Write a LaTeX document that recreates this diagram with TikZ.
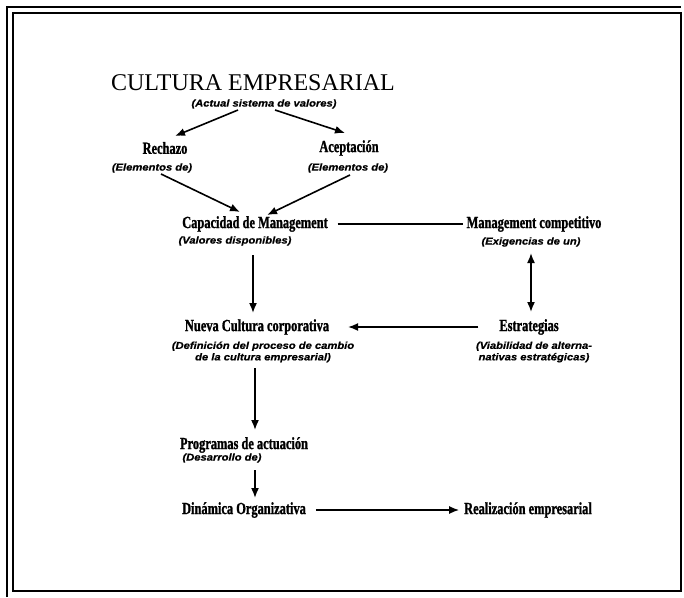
\documentclass[tikz,border=0pt]{standalone}
\usepackage{fontspec}
\setmainfont{Liberation Serif}
\newfontfamily\labfont{Liberation Serif}[FakeStretch=0.73,FakeBold=1.2]
\newfontfamily\subfont{Liberation Sans}[FakeStretch=1.12,FakeBold=0.6]
\usetikzlibrary{arrows.meta,calc}
\begin{document}
\begin{tikzpicture}[x=1pt,y=-1pt,
  every node/.style={inner sep=0pt,outer sep=0pt,anchor=center},
  titlelab/.style={font=\fontsize{24}{28}\selectfont},
  lab/.style={font=\labfont\bfseries\fontsize{17}{19}\selectfont},
  sublab/.style={font=\subfont\bfseries\itshape\fontsize{10}{11.5}\selectfont,align=center},
  conn/.style={line width=1.6pt},
  arr/.style={conn,-{Latex[length=10pt,width=8pt]}},
  dblarr/.style={conn,{Latex[length=10pt,width=8pt]}-{Latex[length=10pt,width=8pt]}}]
\useasboundingbox (0,0) rectangle (684,597);
\fill[white] (0,0) rectangle (684,597);

% frame: inner box with a second rule along the top and left
\draw[line width=1.8pt] (13,13) rectangle (681,591);
\draw[line width=2pt] (7,597) -- (7,7) -- (681,7);

% labels
\node[titlelab] (title) at (253,83) {CULTURA EMPRESARIAL};
\node[sublab] (titlesub) at (264,104) {(Actual sistema de valores)};

\node[lab] (rech) at (165,148) {Rechazo};
\node[sublab] (rechsub) at (152,168) {(Elementos de)};
\node[lab] (acep) at (349,148) {Aceptación};
\node[sublab] (acepsub) at (348,168) {(Elementos de)};

\node[lab] (cap) at (255,224) {Capacidad de Management};
\node[sublab] (capsub) at (235,241) {(Valores disponibles)};
\node[lab] (mc) at (534,224) {Management competitivo};
\node[sublab] (mcsub) at (531,242) {(Exigencias de un)};

\node[lab] (nueva) at (257,327) {Nueva Cultura corporativa};
\node[sublab] (nuevasub) at (263,352) {(Definición del proceso de cambio\\de la cultura empresarial)};
\node[lab] (est) at (529,327) {Estrategias};
\node[sublab] (estsub) at (534,352) {(Viabilidad de alterna-\\nativas estratégicas)};

\node[lab] (prog) at (244,445) {Programas de actuación};
\node[sublab] (progsub) at (222,458) {(Desarrollo de)};

\node[lab] (din) at (244,510) {Dinámica Organizativa};
\node[lab] (real) at (528,510) {Realización empresarial};

% connectors
\draw[arr] ($(titlesub)+(-26,6)$) -- ($(rech)+(10,-12)$);
\draw[arr] ($(titlesub)+(11,6)$) -- ($(acep)+(-4,-15)$);
\draw[arr] ($(rechsub)+(9,6)$) -- ($(cap)+(-15,-12)$);
\draw[arr] ($(acepsub)+(2,7)$) -- ($(cap)+(12,-9)$);
\draw[conn,shorten <=10pt,shorten >=4pt] (cap) -- (mc);
\draw[arr] ($(cap)+(-2,31)$) -- ($(nueva)+(-4,-14)$);
\draw[dblarr] ($(mc)+(-3,29)$) -- ($(est)+(2,-15)$);
\draw[arr,shorten <=21pt,shorten >=19pt] (est) -- (nueva);
\draw[arr] ($(nueva)+(-2,41)$) -- ($(prog)+(11,-15)$);
\draw[arr] ($(prog)+(11,25)$) -- ($(din)+(11,-12)$);
\draw[arr,shorten <=10pt,shorten >=5pt] (din) -- (real);
\end{tikzpicture}
\end{document}
